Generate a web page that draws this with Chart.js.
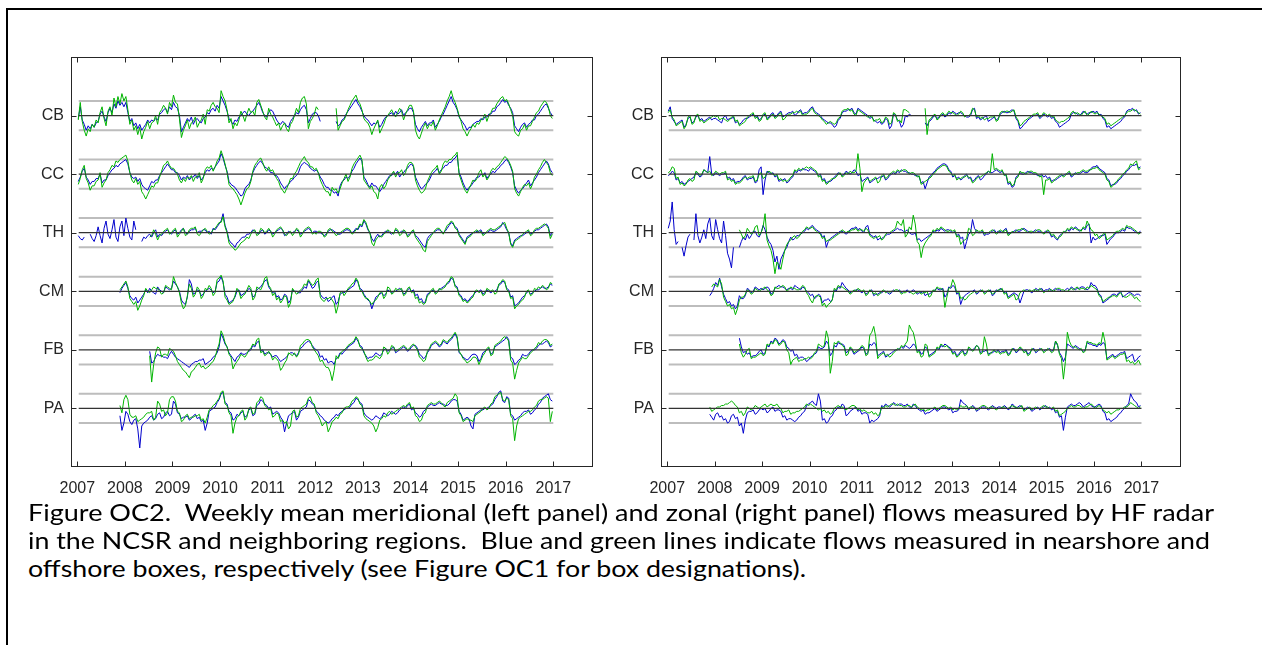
<!DOCTYPE html>
<html><head><meta charset="utf-8">
<script src="https://cdn.jsdelivr.net/npm/chart.js@4.4.0/dist/chart.umd.min.js"></script>
<style>
html,body{margin:0;padding:0;background:#fff;}
body{width:1262px;height:645px;position:relative;overflow:hidden;}
#frameTop{position:absolute;left:6px;top:8px;width:1256px;height:2px;background:#000;}
#frameLeft{position:absolute;left:6px;top:8px;width:2px;height:637px;background:#000;}
canvas{position:absolute;top:0;}
.cap{position:absolute;left:28px;font-family:Lato,'Open Sans',sans-serif;font-size:23px;line-height:23px;white-space:nowrap;color:#000;transform-origin:0 0;}
</style></head><body>
<div id="frameTop"></div><div id="frameLeft"></div>
<canvas id="left" width="620" height="510" style="left:0px;width:620px;height:510px"></canvas>
<canvas id="right" width="620" height="510" style="left:590px;width:620px;height:510px"></canvas>
<div class="cap" id="c1" style="top:501px">Figure OC2.&nbsp; Weekly mean meridional (left panel) and zonal (right panel) flows measured by HF radar</div>
<div class="cap" id="c2" style="top:529px">in the NCSR and neighboring regions.&nbsp; Blue and green lines indicate flows measured in nearshore and</div>
<div class="cap" id="c3" style="top:557px">offshore boxes, respectively (see Figure OC1 for box designations).</div>
<script>
const _ = null;
const rowNames = ['CB','CC','TH','CM','FB','PA'];
const rowBase = [200,160,120,80,40,0];
const band = 10;
const yearTicks = [2007,2008,2009,2010,2011,2012,2013,2014,2015,2016,2017];
const refSpan = [2007.03, 2017.0];
const startYear = 2007, perYear = 24;   // half-monthly samples, 2007-2016

// ---- meridional (left panel); units where grey line = 10 ----
const merCB_near = [
-2,6,-3,-6,-10,-7,-9,-6,-8,-5,-4,1,3,-1,-4,2,5,2,8,5,10,7,9,6,
9,2,-4,-2,-7,-5,-9,-6,-10,-8,-6,-3,-5,-3,-4,-2,-3,1,2,4,5,2,6,4,
9,6,5,0,-11,-8,-5,-2,-4,-1,-6,-3,-2,-4,-5,-2,-1,2,1,4,5,3,7,5,
13,10,7,3,-2,-4,-6,-3,-4,-1,0,2,3,1,0,2,3,5,7,9,6,2,0,-1,
2,4,3,0,-3,-5,-6,-4,-5,-7,-8,-4,-2,0,2,1,4,6,7,4,-5,-2,1,2,
2,0,-4,_,_,_,_,_,_,_,-4,-7,-6,-3,-2,1,3,5,7,9,11,8,6,3,
0,-2,-3,-5,-7,-5,-6,-4,-8,-6,-3,-1,0,1,2,0,3,1,2,4,0,2,3,5,
5,2,-6,-9,-11,-8,-6,-4,-7,-5,-5,-3,-8,-6,-4,-1,1,4,7,10,13,9,7,4,
-1,-3,-5,-7,-10,-8,-8,-6,-5,-4,-4,-2,-3,-1,-1,1,1,3,3,6,7,9,11,9,
10,7,5,2,-7,-9,-11,-8,-6,-5,-8,-6,-5,-3,-3,0,1,3,5,7,8,5,2,0];
const merCB_off = [
-3,9,-4,-10,-14,-9,-11,-6,-8,-3,-5,2,6,-2,-7,3,6,0,12,6,13,8,15,10,
13,4,-6,-3,-10,-7,-13,-8,-16,-11,-8,-4,-9,-5,-4,0,-6,2,4,7,5,1,9,6,
14,9,8,-2,-15,-10,-7,-3,-9,-5,-4,-1,-8,-5,-3,1,-6,4,3,7,9,6,5,2,
17,13,10,4,-5,-2,-9,-5,-7,-3,3,0,-4,1,5,2,3,0,9,11,7,3,-1,-3,
5,1,-1,-4,-7,-5,-10,-7,-5,-9,-11,-6,-4,0,5,2,9,12,13,8,-9,-4,-2,1,
6,4,_,_,_,_,_,_,_,_,5,-10,-7,-4,-3,0,4,7,10,12,14,10,8,4,
-2,-4,-5,-8,-13,-9,-6,-3,-12,-9,-6,-2,0,2,4,1,-1,2,5,3,-3,1,4,7,
7,3,-10,-14,-16,-12,-8,-5,-9,-6,-7,-4,-10,-7,-3,0,3,6,10,13,17,12,9,5,
0,-4,-9,-11,-14,-11,-9,-6,-8,-5,-6,-3,-2,1,-4,0,2,5,5,8,10,12,13,10,
11,8,4,0,-11,-13,-14,-10,-9,-6,-10,-7,-7,-4,-1,2,3,6,8,10,9,6,0,-2];
const merCC_near = [
-5,-2,2,4,-2,-4,-7,-5,-5,-3,-3,0,-6,-4,-4,-1,1,3,4,6,5,7,8,9,
10,7,1,-2,-3,-2,-5,-3,-7,-9,-10,-11,-8,-5,-6,-4,-4,-1,1,3,5,7,5,3,
3,1,1,-1,-4,-2,-3,-1,-4,-2,-2,0,-3,-1,-4,-2,1,3,2,4,3,5,7,9,
14,11,6,2,-5,-7,-8,-9,-11,-13,-15,-14,-10,-8,-7,-4,1,4,6,8,9,7,5,4,
3,1,1,-1,-1,-3,-6,-8,-10,-8,-7,-5,-4,-2,-1,1,5,7,8,7,6,4,3,2,
3,1,-2,-4,-7,-9,-9,-11,-11,-13,-12,-15,-8,-5,-4,-2,-3,-1,2,4,7,9,11,9,
-2,-4,-7,-9,-6,-8,-8,-10,-12,-10,-7,-5,-3,-1,-1,1,0,2,-2,0,1,3,4,6,
7,5,-2,-5,-8,-10,-9,-7,-6,-4,-1,1,2,4,1,3,4,6,6,8,8,10,11,13,
1,-2,-6,-9,-11,-9,-8,-6,-4,-2,-2,0,-1,1,-3,-1,0,2,1,3,4,6,7,9,
10,8,5,1,-8,-11,-13,-11,-10,-8,-6,-4,-8,-6,-4,-2,1,3,5,7,9,7,3,1];
const merCC_off = [
-7,-3,3,6,-3,-6,-11,-8,-8,-5,-4,1,-9,-6,-4,1,3,6,5,9,8,10,11,12,
13,9,1,-4,-6,-3,-7,-5,-12,-14,-17,-14,-11,-8,-9,-6,-6,-2,2,6,7,9,6,4,
4,2,0,-4,-6,-3,-5,-2,-3,-1,-5,-2,-2,1,-6,-3,3,5,4,6,2,5,9,11,
16,12,7,1,-7,-9,-10,-12,-14,-17,-21,-17,-13,-10,-9,-5,2,6,8,10,11,8,4,2,
5,2,3,0,-3,-5,-9,-11,-13,-10,-7,-3,-3,0,2,5,8,10,12,9,8,5,5,3,
4,1,-4,-7,-10,-12,-12,-15,-9,-11,-10,-13,-10,-6,-3,0,-5,-2,4,7,9,11,13,10,
-4,-6,-8,-10,-8,-12,-13,-17,-9,-7,-10,-8,-4,-2,0,2,-2,1,1,3,-1,1,6,8,
8,6,-4,-8,-11,-13,-12,-10,-5,-2,1,3,4,6,0,2,7,9,8,10,10,12,13,15,
0,-4,-8,-11,-13,-10,-7,-4,-5,-3,1,3,-2,0,-4,-2,2,4,3,5,6,8,10,12,
11,9,6,2,-10,-13,-15,-12,-9,-7,-8,-6,-10,-7,-2,0,3,5,8,10,8,6,1,-1];
const merTH_near = [
-2,-4,-5,-3,_,_,-1,-4,-6,-2,4,-2,-7,3,8,-1,-4,2,9,-3,-6,4,8,-2,
10,3,-3,-5,8,2,_,_,-6,-3,-4,-2,-1,-3,0,2,-3,-1,-2,0,1,2,0,-1,
1,2,-1,0,2,3,0,-1,1,2,2,3,0,1,1,2,2,0,1,-1,3,2,4,6,
8,13,5,1,-5,-7,-8,-10,-7,-6,-4,-3,-3,-1,-1,0,2,1,0,-1,1,2,-1,0,
2,1,-1,0,1,2,3,2,-2,-1,1,0,0,1,2,1,-1,0,1,2,3,2,0,1,
1,0,0,-1,-2,-1,1,2,2,1,0,-1,-1,0,1,2,2,1,0,1,3,2,5,4,
8,6,2,0,-4,-6,-3,-1,-3,-2,0,1,1,0,-1,0,2,1,0,1,1,0,-2,-1,
0,1,-2,-3,-5,-7,-9,-10,-4,-2,-1,0,1,2,2,1,0,1,3,5,7,6,4,3,
-1,-3,-5,-7,-3,-2,-1,0,0,1,1,2,-1,0,0,1,2,1,1,2,3,4,7,5,
2,0,-7,-9,-5,-4,-3,-2,-2,-1,0,1,-1,0,1,2,2,3,4,5,6,4,-2,0];
const merTH_off = [
_,_,_,_,_,_,_,_,_,_,_,_,_,_,_,_,_,_,_,_,_,_,_,_,
_,_,_,_,_,_,_,_,_,_,_,_,-3,-2,2,-1,-5,-2,-1,1,2,3,-1,0,
2,3,-3,-1,1,3,-2,-1,2,3,3,4,-1,-2,0,2,3,1,-1,0,2,3,5,7,
7,11,4,0,-7,-9,-10,-12,-11,-9,-7,-6,-5,-3,-4,-1,1,2,-2,-1,3,2,0,1,
3,1,-3,-1,2,3,4,2,-1,-2,0,1,-2,0,3,2,-3,-1,2,3,4,3,-1,0,
-1,1,1,0,-3,-2,2,3,1,0,-2,-1,0,1,2,3,3,2,-1,0,2,3,6,5,
9,7,3,0,-7,-9,-5,-3,-2,-3,-1,0,2,1,0,-1,3,2,-2,-1,2,1,-3,-2,
1,2,-3,-5,-7,-9,-12,-13,-6,-4,-2,0,2,3,3,1,-1,2,5,6,8,7,3,2,
-2,-4,-6,-8,-4,-3,-2,0,1,2,0,1,-2,-1,1,2,3,2,2,3,4,5,6,7,
3,0,-8,-10,-6,-5,-4,-3,-1,0,1,2,-2,-1,2,3,3,4,5,6,5,3,-4,-1];
const merCM_near = [
_,_,_,_,_,_,_,_,_,_,_,_,_,_,_,_,_,_,_,_,_,-1,2,4,
6,2,-3,-5,-6,-4,-8,-6,-4,-2,1,-1,2,0,-1,-2,3,1,0,-1,3,2,1,2,
7,5,3,0,-6,-8,-9,-4,8,5,-2,-1,1,0,-3,-2,0,1,2,1,-1,0,6,7,
10,6,-2,-4,-8,-7,-6,-4,0,1,-3,-2,-1,0,2,1,-4,-3,1,2,3,5,7,8,
3,1,-1,0,-4,-3,-6,-5,-2,-3,-8,-6,1,0,0,-1,-1,1,3,2,7,5,2,3,
6,7,-2,-4,-5,-4,-7,-6,-4,-3,-9,-7,-2,-1,-1,0,1,2,3,4,8,6,2,1,
-2,-4,-6,-7,-12,-8,-4,-3,-2,-1,-3,-2,1,0,-1,0,0,1,2,1,-2,-1,1,2,
0,1,-3,-2,-6,-5,-8,-7,-2,-1,0,1,-1,0,1,2,3,4,5,6,9,8,4,3,
-2,-3,-6,-5,-7,-6,-4,-3,-1,0,0,1,-2,-1,1,0,-1,0,0,1,4,5,7,6,
2,1,-4,-3,-10,-9,-8,-6,-4,-3,-1,0,-2,-1,0,1,1,2,3,2,2,3,5,4];
const merCM_off = [
_,_,_,_,_,_,_,_,_,_,_,_,_,_,_,_,_,_,_,_,_,1,3,5,
7,3,-5,-7,-9,-7,-13,-10,-6,-3,2,0,-1,1,3,2,2,0,-2,-1,4,3,2,1,
10,6,3,-1,-8,-12,-10,-3,5,2,-4,-2,3,1,-5,-3,2,1,4,2,-3,-1,8,9,
11,7,-4,-6,-9,-8,-7,-3,2,0,-5,-3,-2,1,4,2,-6,-4,3,2,1,4,9,10,
4,2,-3,-1,-6,-4,-8,-6,-3,-4,-11,-8,2,0,-2,-1,1,2,5,4,8,6,4,5,
8,9,-4,-6,-7,-5,-5,-4,-6,-8,-15,-10,-1,0,-3,-1,2,3,5,6,9,7,1,0,
-3,-5,-5,-7,-9,-7,-6,-4,-1,0,-5,-3,3,2,-2,-1,2,1,1,2,-3,-2,2,3,
-1,0,-5,-4,-8,-7,-9,-8,-3,-2,1,2,-2,-1,2,1,2,3,6,7,10,9,3,2,
-3,-4,-7,-6,-8,-7,-5,-4,0,1,-1,0,-3,-2,2,1,0,1,-2,-1,5,6,8,7,
1,0,-5,-4,-12,-10,-9,-7,-6,-4,0,1,-3,-2,2,1,3,2,4,3,1,2,6,5];
const merFB_near = [
_,_,_,_,_,_,_,_,_,_,_,_,_,_,_,_,_,_,_,_,_,_,_,_,
_,_,_,_,_,_,_,_,_,_,_,_,-1,-9,-8,-5,-3,-4,-4,-5,-5,-6,-3,-1,
-3,-5,-6,-7,-8,-9,-10,-11,-12,-10,-9,-8,-8,-7,-7,-6,-10,-9,-8,-7,-5,-4,-2,2,
11,8,4,2,-2,-4,-6,-8,-5,-4,-2,-3,-3,-2,-1,0,3,2,5,6,-1,0,-3,-2,
-2,-3,-5,-4,-4,-6,-8,-7,-6,-5,-3,-2,-2,-3,-4,-2,1,2,4,5,6,5,3,1,
0,-1,-5,-4,-7,-6,-9,-8,-8,-10,-6,-5,-2,-3,-1,0,2,3,4,5,8,6,3,2,
-2,-4,-6,-5,-5,-4,-2,-3,-4,-3,0,1,-1,0,1,2,-2,-1,0,1,2,1,-1,0,
2,3,3,1,-3,-4,-6,-5,-2,0,3,4,5,4,2,3,6,5,4,6,7,9,11,8,
-2,-3,-5,-6,-7,-6,-4,-3,-3,-4,-8,-6,-2,-1,0,1,-3,-2,2,3,4,5,6,7,
9,7,-5,-6,-10,-9,-7,-6,-3,-4,-4,-3,-1,0,0,1,3,4,4,5,6,5,2,3];
const merFB_off = [
_,_,_,_,_,_,_,_,_,_,_,_,_,_,_,_,_,_,_,_,_,_,_,_,
_,_,_,_,_,_,_,_,_,_,_,_,-4,-22,-10,-2,2,1,-5,-3,-3,-4,1,0,
-1,-4,-8,-10,-12,-14,-15,-17,-19,-15,-14,-12,-10,-9,-12,-11,-13,-12,-11,-9,-8,-5,0,4,
13,10,5,2,-3,-5,-13,-10,-8,-6,-3,-4,-5,-3,0,1,4,3,7,8,-2,-1,-4,-3,
-1,-3,-7,-5,-6,-8,-14,-12,-9,-7,-2,-3,-4,-2,-5,-3,3,4,6,7,7,6,2,0,
-2,-4,-8,-7,-10,-12,-12,-15,-21,-14,-4,-6,-3,-1,0,1,3,4,5,6,9,7,2,1,
-1,-5,-8,-7,-7,-6,-4,-5,-6,-4,2,1,-3,-1,3,2,-1,0,1,2,3,2,0,1,
3,4,2,0,-5,-6,-8,-7,-1,1,4,5,6,5,3,4,7,6,5,7,8,10,12,9,
-1,-3,-6,-7,-9,-8,-7,-5,-5,-6,-10,-7,-4,-2,1,2,-4,-3,3,4,5,6,8,9,
8,6,-7,-9,-20,-14,-9,-7,-5,-6,-6,-4,-2,-1,1,2,5,4,6,7,7,6,3,4];
const merPA_near = [
_,_,_,_,_,_,_,_,_,_,_,_,_,_,_,_,_,_,_,_,_,-5,-15,-10,
-2,-4,-9,-11,-8,-7,-14,-27,-12,-10,-9,-8,-6,-5,-8,-7,-4,-3,-7,-6,-3,-2,-5,-4,
5,3,-3,-4,-7,-6,-6,-5,-8,-7,-5,-4,-7,-6,-9,-8,-15,-10,-2,-1,0,1,4,6,
10,11,4,3,-2,-3,-8,-7,-4,-5,-3,-2,-6,-5,-1,0,-5,-4,2,3,6,5,3,2,
0,1,-4,-3,-2,-3,-6,-8,-16,-10,-5,-4,-3,-2,-8,-6,-2,-1,0,1,6,5,3,2,
-2,-3,-5,-6,-8,-9,-10,-9,-7,-6,-4,-5,-3,-2,-1,0,0,1,3,4,7,6,4,3,
-3,-5,-6,-7,-8,-7,-5,-6,-7,-6,-3,-4,-5,-4,-2,-3,-4,-3,-1,0,1,0,2,3,
-1,0,-3,-4,-6,-5,-2,-1,1,2,3,2,2,3,4,3,3,2,2,3,5,6,6,5,
-2,-4,-8,-7,-6,-7,-12,-14,-4,-3,-2,-1,-1,0,0,1,2,3,6,8,11,12,5,4,
8,7,-4,-5,-8,-7,-6,-5,-3,-2,-2,-1,-4,-3,-1,0,3,4,7,8,9,10,6,5];
const merPA_off = [
_,_,_,_,_,_,_,_,_,_,_,_,_,_,_,_,_,_,_,_,_,2,-3,6,
9,6,-4,-6,-6,-5,-9,-8,-7,-6,-4,-3,-3,-2,-8,-6,5,3,-2,-1,-5,-3,6,8,
8,5,-2,-3,-9,-8,-5,-4,-7,-6,-6,-5,-5,-4,-8,-7,-10,-6,-1,0,2,3,5,7,
11,12,3,2,-3,-5,-17,-10,-6,-5,-2,-1,-8,-6,0,1,-4,-3,4,5,8,7,2,1,
-1,0,-6,-5,-3,-4,-9,-8,-10,-9,-14,-12,-2,-1,-6,-5,0,1,2,3,7,8,4,3,
-3,-5,-8,-12,-10,-9,-16,-13,-9,-8,-6,-7,-4,-3,0,1,1,2,5,6,8,7,3,2,
-5,-7,-8,-9,-10,-12,-16,-13,-8,-7,-5,-6,-3,-2,-4,-3,-2,-1,0,1,2,1,3,4,
0,1,-5,-6,-9,-8,-4,-3,2,3,4,3,3,4,5,4,2,1,4,5,6,7,10,8,
-3,-5,-9,-8,-7,-8,-8,-9,-5,-4,-3,-2,0,1,-1,0,3,4,8,9,10,11,6,5,
7,6,-5,-7,-22,-12,-7,-6,-5,-4,-3,-2,-2,-1,1,2,5,6,6,7,8,7,-9,-2];

// ---- zonal (right panel) ----
const zonCB_near = [
3,6,-2,-4,-6,-5,-4,-3,-8,-6,-2,-1,-5,-4,-1,0,-3,-2,-4,-3,-2,-1,-3,-2,
-2,-3,-4,-5,-1,0,-3,-2,-2,-1,-5,-4,-6,-5,-3,-2,-2,-1,0,1,-1,0,-3,-2,
0,1,-2,-1,1,2,-1,0,2,3,-1,0,1,2,2,3,0,1,3,4,1,2,2,3,
5,6,3,2,1,0,-2,-3,-4,-5,-5,-6,-8,-7,-3,-2,2,3,3,4,4,5,2,1,
5,4,3,2,1,0,-2,-1,-3,-4,-5,-4,-6,-5,-2,-3,-9,-7,1,0,-3,-4,-8,-6,
0,-1,1,0,_,_,_,_,_,_,-5,-7,-4,-3,-1,0,-2,-1,0,1,-1,0,2,1,
3,2,1,2,2,1,0,-1,-1,0,4,5,-2,-1,-3,-2,-1,0,-4,-3,-2,-1,-3,-2,
1,2,3,2,2,3,4,3,-2,-4,-9,-8,-6,-5,-3,-2,-1,0,0,1,-2,-1,1,0,
-1,0,-2,-1,-4,-5,-8,-7,-6,-5,-4,-3,1,2,2,1,0,1,3,2,1,2,2,3,
2,3,0,1,-2,-3,-8,-7,-9,-8,-7,-6,-5,-4,-2,-1,3,4,4,5,3,4,1,2];
const zonCB_off = [
2,4,-1,-3,-7,-6,-5,-4,-9,-7,-1,0,-6,-5,0,1,-4,-3,-5,-4,-3,-2,-1,0,
-1,0,-3,-2,-2,-3,-4,-3,-1,0,-4,-3,-7,-6,-5,-4,-1,0,1,2,-2,-1,-4,-3,
1,2,-3,-2,0,1,-2,-1,1,2,-3,-2,0,1,1,2,2,3,2,3,0,1,1,2,
4,5,2,1,0,-1,-3,-4,-6,-5,-4,-5,-6,-5,-2,-1,3,4,4,5,3,4,1,0,
4,3,2,1,0,-1,-1,0,-4,-3,-3,-2,-5,-4,-1,-2,-6,-5,2,1,-4,-3,-5,4,
4,3,2,_,_,_,_,_,_,_,5,-13,-3,-2,0,1,-3,-2,1,2,0,1,3,2,
2,1,0,1,3,2,-1,0,0,1,5,4,-1,0,-2,-1,-3,-2,-2,-1,-1,0,-4,-3,
2,3,2,3,3,2,3,4,-1,-3,-7,-6,-4,-3,-2,-1,0,1,1,2,-1,0,2,1,
0,1,-1,0,-3,-4,-5,-4,-4,-3,-2,-1,2,3,1,2,1,0,2,3,0,1,3,2,
1,2,1,0,-1,-2,-6,-5,-7,-6,-5,-4,-3,-2,-1,0,2,3,3,4,4,3,2,1];
const zonCC_near = [
-1,0,2,1,-4,-3,-6,-5,-7,-6,-5,-4,-3,-2,1,0,-2,-1,3,2,1,12,0,-1,
1,0,-1,0,0,1,-3,-2,-4,-3,-6,-5,-5,-4,-2,-1,-4,-3,-3,-2,-6,-5,3,5,
-14,-4,2,1,0,1,-2,-1,-5,-4,-4,-3,-6,-5,-3,-2,2,1,3,2,4,3,3,2,
4,3,2,1,-1,0,-4,-3,-6,-5,-5,-4,-2,-1,1,0,-1,0,2,1,0,1,3,2,
-1,0,-5,-4,-3,-2,-6,-5,-4,-3,-3,-2,-2,-1,-4,-3,-1,0,1,0,2,1,3,2,
2,1,1,0,0,-1,-1,-2,-6,-5,-10,-6,-2,-1,1,2,4,5,6,7,7,6,3,2,
-2,-1,-3,-2,-4,-3,-1,0,-3,-2,-5,-4,-2,-1,-4,-3,-1,0,2,1,1,2,3,2,
1,2,0,-1,-7,-6,-9,-8,-2,-1,1,0,0,1,2,1,1,0,0,-1,-1,0,-2,-1,
-3,-2,-5,-4,-4,-3,-2,-1,-1,0,0,1,-2,-1,1,0,0,1,2,1,1,2,4,5,
5,6,4,3,2,1,-3,-4,-8,-7,-7,-6,-4,-3,-1,0,2,3,5,6,6,7,4,5];
const zonCC_off = [
1,2,5,4,-3,-2,-7,-6,-8,-7,-4,-3,-5,-4,2,1,-1,0,3,2,1,2,-1,0,
2,1,0,1,1,2,-4,-3,-5,-4,-7,-6,-6,-5,-3,-2,-3,-2,-2,-1,-5,-4,0,1,
-3,-2,1,2,1,0,-1,0,-4,-3,-5,-4,-5,-4,-2,-1,3,2,4,3,3,4,5,4,
5,4,3,2,-2,-1,-5,-4,-7,-6,-4,-3,-3,-2,0,1,-2,-1,1,0,2,1,1,2,
14,4,-12,-6,-4,-3,-5,-4,-3,-2,-6,-5,-1,0,-3,-2,0,1,2,1,3,2,2,3,
3,2,0,1,1,0,-2,-1,-7,-6,-5,-4,-3,-2,0,1,3,4,5,6,6,5,2,1,
-1,0,-4,-3,-3,-2,-2,-1,-2,-3,-6,-5,-3,-2,-2,-1,0,1,2,1,14,3,4,3,
2,3,-1,0,-6,-5,-8,-7,-3,-2,2,1,1,0,1,2,2,1,1,0,-2,-1,-14,-4,
-4,-3,-6,-5,-3,-2,-1,0,-2,-1,1,2,-1,0,0,1,1,2,3,2,2,3,3,4,
4,5,3,2,1,0,-4,-5,-9,-8,-6,-5,-3,-2,0,1,3,4,7,6,8,9,3,4];
const zonTH_near = [
3,8,21,2,-8,-6,_,-10,-16,-9,-3,-1,_,-5,13,-2,-7,-3,2,-4,6,10,-2,-5,
9,2,-4,-7,8,-2,-14,-18,-24,-10,_,_,-10,-6,-3,-5,-1,-4,-2,1,1,-2,-3,0,
5,2,-3,-6,-8,-12,-20,-16,-25,-18,-15,-12,-10,-6,-3,-5,-4,-2,-2,-1,0,1,3,2,
4,5,3,2,1,0,-3,-2,-10,-6,-4,-3,-2,-1,0,1,1,0,-1,0,2,3,3,4,
2,3,1,0,4,5,-1,-2,-3,-2,-5,-4,-4,-3,-2,-1,-1,0,1,2,3,2,2,1,
1,2,0,-1,-1,0,-5,-4,-6,-5,-4,-3,-2,-1,1,0,2,1,3,2,1,2,2,1,
0,1,-2,-1,-4,-3,-11,-6,-1,0,9,3,1,0,0,1,-2,-1,-1,0,1,2,0,1,
1,0,2,3,-1,0,0,1,2,1,1,2,3,2,1,0,0,1,2,1,1,0,0,1,
1,0,-3,-2,-4,-5,-2,-1,0,1,2,1,3,2,4,3,1,2,3,2,5,6,-7,-3,
-5,-4,-3,-2,-2,-1,-8,-6,-4,-3,-1,0,0,1,2,1,4,3,3,2,1,0,0,1];
const zonTH_off = [
_,_,_,_,_,_,_,_,_,_,_,_,_,_,_,_,_,_,_,_,_,_,_,_,
_,_,_,_,_,_,_,_,_,_,_,_,2,-1,-4,-2,3,1,-1,0,4,5,-2,0,
4,13,-5,-9,-12,-18,-28,-20,-22,-25,-18,-12,-8,-6,-5,-3,-2,-4,-3,-1,1,2,4,3,
3,4,2,1,0,-1,-4,-3,-6,-5,-5,-4,-3,-2,-1,0,2,1,0,1,1,2,2,3,
1,2,2,1,3,2,-2,-3,-4,-3,-3,-2,-5,-4,-1,0,0,1,2,3,8,6,5,9,
-3,-1,4,2,12,6,-6,-8,-17,-10,-7,-5,-3,-2,2,1,3,2,4,3,2,1,1,2,
1,2,-3,-2,-8,-6,-5,-4,3,2,-2,-1,2,1,1,2,-1,0,0,1,2,1,-1,0,
2,1,1,2,-2,-1,1,0,1,2,2,3,2,1,0,1,1,0,1,2,2,1,-1,0,
2,1,-2,-1,-3,-4,-3,-2,1,0,3,2,4,3,3,2,2,1,4,3,8,5,2,1,
-2,-1,-4,-3,-1,0,-5,-4,-3,-2,0,1,1,2,3,2,5,4,4,3,2,1,-1,0];
const zonCM_near = [
_,_,_,_,_,_,_,_,_,_,_,_,_,_,_,_,_,_,_,_,_,-3,-1,2,
6,4,9,3,-2,-5,-8,-7,-10,-9,-12,-10,-3,-5,-5,-3,2,1,-1,0,3,2,1,2,
1,2,3,2,-2,-1,2,3,4,3,3,2,1,2,2,1,4,3,2,1,3,2,0,-1,
-3,-2,-5,-4,-2,-3,-8,-6,-6,-5,-7,-6,1,0,3,2,6,4,2,1,-1,0,0,1,
1,0,-1,0,-2,-1,0,1,-3,-2,-2,-1,-1,0,0,-1,-2,-1,1,0,0,1,-1,0,
0,1,-1,0,1,0,-2,-1,-1,0,-3,-2,-2,-1,0,1,2,1,1,2,-4,-2,3,2,
4,3,-2,-1,-9,-5,-3,-2,-1,0,0,1,-2,-1,1,0,-1,0,0,1,-3,-2,1,0,
2,1,-1,0,-4,-3,-2,-1,-2,-3,-8,-4,0,1,1,0,-1,0,2,1,1,2,0,1,
1,2,0,1,2,1,1,0,0,1,2,1,3,2,1,2,2,3,3,2,1,2,6,4,
4,2,-2,-3,-8,-7,-6,-5,-3,-2,-2,-3,-1,0,-4,-3,-2,-1,-1,-2,-3,-2,-2,-3];
const zonCM_off = [
_,_,_,_,_,_,_,_,_,_,_,_,_,_,_,_,_,_,_,_,_,_,3,5,
4,3,8,5,-4,-7,-10,-9,-12,-11,-16,-12,-6,-4,-4,-2,1,0,-2,-1,2,1,0,1,
2,3,1,0,-3,-2,3,2,2,3,4,3,0,1,3,2,2,1,1,2,4,3,-1,-3,
-6,-8,-4,-3,-3,-4,-10,-8,-11,-9,-8,-6,2,1,4,3,3,2,1,0,-2,-1,1,0,
2,1,0,1,-3,-2,1,0,-2,-1,-3,-2,0,1,-1,0,-1,0,0,1,1,0,-2,-1,
-1,0,0,-1,-2,-1,-1,0,-2,-1,-1,0,-4,-3,1,0,3,2,2,1,-11,-4,2,3,
8,5,-1,0,-5,-4,-6,-5,-3,-2,-1,0,-1,0,0,1,-2,-1,1,0,-2,-1,0,1,
1,2,-2,-1,-5,-4,-3,-2,-6,-5,-1,0,1,0,0,1,0,1,1,0,2,1,-1,0,
0,1,1,0,1,2,2,1,1,0,0,1,2,1,2,3,1,2,2,1,3,2,4,3,
2,1,-3,-4,-7,-6,-5,-4,-4,-3,-3,-4,-2,-1,-3,-4,-4,-3,-2,-3,-5,-4,-6,-7];
const zonFB_near = [
_,_,_,_,_,_,_,_,_,_,_,_,_,_,_,_,_,_,_,_,_,_,_,_,
_,_,_,_,_,_,_,_,_,_,_,_,8,2,-2,-1,-3,-2,-5,-4,-4,-3,-1,0,
-3,-2,3,2,6,5,8,7,4,5,7,6,2,1,-1,0,-4,-3,-6,-5,-5,-6,-8,-7,
-5,-4,-3,-2,2,1,1,2,6,4,-4,-2,3,2,5,4,4,3,-2,-1,1,0,-3,-2,
-1,0,2,1,-3,-2,4,3,5,4,-4,-3,-2,-1,-5,-4,-3,-2,-1,0,0,1,2,1,
3,2,1,2,4,3,-1,0,-3,-2,2,1,-4,-3,-2,-1,1,0,3,2,4,3,2,1,
-2,-1,-4,-3,-1,0,-3,-2,1,0,0,1,3,2,-2,-1,-1,0,-3,-2,-2,-1,-1,0,
-2,-1,-1,0,-3,-2,0,1,-2,-1,1,0,-1,0,-3,-2,0,1,-2,-1,1,0,-1,0,
0,1,-1,0,6,3,-2,-4,-8,-5,4,3,2,1,3,2,1,0,-1,0,5,4,4,3,
3,2,4,3,5,4,-6,-5,-4,-3,-5,-4,-3,-2,-2,-1,-6,-5,-4,-3,-8,-7,-5,-4];
const zonFB_off = [
_,_,_,_,_,_,_,_,_,_,_,_,_,_,_,_,_,_,_,_,_,_,_,_,
_,_,_,_,_,_,_,_,_,_,_,_,4,-2,-5,-3,0,1,-6,-5,-5,-4,-3,-2,
-4,-3,4,3,5,4,7,6,3,4,6,5,0,-2,-10,-7,-6,-5,-8,-7,-7,-6,-6,-5,
-6,-5,-2,-1,4,3,2,3,13,8,-16,-8,5,4,6,5,3,2,-4,-3,2,1,-2,-1,
0,1,3,2,-4,-3,10,12,16,9,-6,-4,-3,-2,-4,-3,-5,-4,-2,-1,1,0,3,2,
4,6,17,14,12,6,-2,-1,-5,-4,4,3,-5,-4,-3,-2,2,1,4,3,2,3,1,0,
-3,-2,-5,-4,-2,-1,-4,-3,2,1,-1,0,3,2,-3,-2,9,4,-4,-3,-1,0,-2,-1,
-3,-2,-2,-1,-4,-3,1,0,-1,0,2,1,-2,-1,-4,-3,1,0,-1,0,0,1,-2,-1,
1,0,-2,-1,6,4,-3,-6,-20,-8,12,6,3,2,2,1,0,1,-2,-1,6,5,5,4,
4,3,5,4,12,6,-7,-6,-5,-4,-6,-5,-4,-3,-3,-2,-8,-7,-9,-8,-10,-9,-7,-10];
const zonPA_near = [
_,_,_,_,_,_,_,_,_,_,_,_,_,_,_,_,_,_,_,_,_,-4,-6,-8,
-4,-3,-6,-5,-8,-7,-10,-9,-5,-4,-7,-6,-12,-10,-17,-8,-3,-2,-2,-1,-4,-3,-1,0,
-1,0,-3,-2,0,1,-2,-1,-1,-2,-6,-5,-8,-7,-7,-8,-9,-8,-6,-5,-3,-2,2,3,
4,5,3,2,10,5,-8,-7,-10,-9,-6,-5,-2,-1,1,0,3,2,-5,-4,-2,-1,0,1,
-2,-1,-4,-3,-3,-4,-10,-8,-9,-8,-7,-5,2,1,3,2,1,2,4,3,2,3,3,2,
2,3,1,0,3,2,0,-1,-2,-1,-4,-3,-3,-2,-1,0,-2,-1,0,1,1,0,-1,0,
-3,-2,-2,-1,6,4,3,2,-1,0,2,1,-2,-1,0,1,1,0,-1,0,2,1,0,1,
1,0,2,1,-1,0,3,2,0,1,2,1,-1,0,1,0,-2,-1,0,1,-1,0,1,2,
0,1,-1,0,-3,-2,-6,-5,-15,-6,1,2,3,2,2,3,4,3,1,2,3,4,2,1,
1,2,3,2,-2,-3,-8,-7,-9,-8,-7,-6,-4,-3,-1,0,2,3,10,7,5,4,1,2];
const zonPA_off = [
_,_,_,_,_,_,_,_,_,_,_,_,_,_,_,_,_,_,_,_,_,1,-2,-1,
0,1,1,2,2,3,3,4,5,4,2,1,-3,-2,-5,-3,1,0,-1,0,2,1,0,1,
2,3,1,2,3,2,2,3,1,0,-3,-2,-2,-1,-4,-3,-3,-2,-2,-1,0,1,3,2,
3,2,1,0,-1,0,-2,-1,-3,-2,-4,-3,0,1,2,1,1,0,-1,0,1,2,2,1,
-1,0,-2,-1,-2,-3,-3,-2,-4,-3,-5,-4,1,0,2,1,2,3,3,2,3,2,2,1,
1,2,2,1,2,3,1,0,-1,0,-2,-1,-1,0,0,1,-1,0,1,2,2,1,0,1,
-1,0,-1,0,2,1,1,2,0,1,1,0,-1,0,1,2,2,1,0,1,1,0,-1,0,
0,1,1,0,0,1,2,1,1,0,1,2,-2,-1,0,1,-1,0,1,0,0,1,2,1,
1,0,0,1,-2,-1,-5,-4,-3,-2,0,1,2,1,1,2,2,1,0,1,1,2,3,2,
0,1,2,1,-1,-2,-3,-2,-4,-3,-2,-1,-1,0,0,1,1,2,4,3,2,1,0,1];

const leftRows  = [[merCB_near,merCB_off],[merCC_near,merCC_off],[merTH_near,merTH_off],[merCM_near,merCM_off],[merFB_near,merFB_off],[merPA_near,merPA_off]];
const rightRows = [[zonCB_near,zonCB_off],[zonCC_near,zonCC_off],[zonTH_near,zonTH_off],[zonCM_near,zonCM_off],[zonFB_near,zonFB_off],[zonPA_near,zonPA_off]];

const BLUE = '#0000cc', GREEN = '#00b400';
const FONT = {family:"'Liberation Sans', Arial, sans-serif", size:16};

function toPoints(vals, base){
  return vals.map((v,i)=>({x: startYear + (i+0.5)/perYear, y: v===null ? null : base + v}));
}

const frameTicks = {
  id:'frameTicks',
  afterDraw(chart){
    const {ctx, chartArea:a, scales:{x,y}} = chart;
    ctx.save();
    ctx.strokeStyle = '#262626'; ctx.lineWidth = 1;
    const L = Math.round(a.left)+0.5, R = Math.round(a.right)-0.5, T = Math.round(a.top)+0.5, B = Math.round(a.bottom)-0.5;
    ctx.strokeRect(L, T, R-L, B-T);
    ctx.beginPath();
    yearTicks.forEach(v=>{
      const px = Math.round(x.getPixelForValue(v))+0.5;
      ctx.moveTo(px,B); ctx.lineTo(px,B-5);
      ctx.moveTo(px,T); ctx.lineTo(px,T+5);
    });
    rowBase.forEach(v=>{
      const py = Math.round(y.getPixelForValue(v))+0.5;
      ctx.moveTo(L,py); ctx.lineTo(L+5,py);
      ctx.moveTo(R,py); ctx.lineTo(R-5,py);
    });
    ctx.stroke();
    ctx.restore();
  }
};

function makePanel(id, rows, padRight){
  const datasets = [];
  rows.forEach((pair, r)=>{
    const base = rowBase[r];
    [base+band, base-band].forEach(level=>{
      datasets.push({data: refSpan.map(x=>({x, y:level})), borderColor:'#bdbdbd', borderWidth:2, pointRadius:0, order:3});
    });
    datasets.push({data: refSpan.map(x=>({x, y:base})), borderColor:'#333333', borderWidth:1.3, pointRadius:0, order:0});
    datasets.push({data: toPoints(pair[0], base), borderColor:BLUE, borderWidth:1, pointRadius:0, spanGaps:false, order:2});
    datasets.push({data: toPoints(pair[1], base), borderColor:GREEN, borderWidth:1, pointRadius:0, spanGaps:false, order:1});
  });
  return new Chart(document.getElementById(id), {
    type:'line',
    data:{datasets},
    options:{
      responsive:false, animation:false, devicePixelRatio:1,
      layout:{padding:{left:0, top:57, right:padRight, bottom:3}},
      plugins:{legend:{display:false}, tooltip:{enabled:false}},
      elements:{line:{tension:0}},
      scales:{
        x:{type:'linear', min:2006.868, max:2017.84,
           afterBuildTicks:s=>{s.ticks = yearTicks.map(v=>({value:v}));},
           afterFit:s=>{s.height = 40;},
           ticks:{callback:v=>String(v), font:FONT, color:'#262626', padding:12, maxRotation:0, autoSkip:false},
           grid:{display:false, drawTicks:false}, border:{display:false}},
        y:{type:'linear', min:-40, max:240,
           afterBuildTicks:s=>{s.ticks = rowBase.slice().reverse().map(v=>({value:v}));},
           afterFit:s=>{s.width = 71;},
           ticks:{callback:v=>{const k=rowBase.indexOf(v); return k<0?'':rowNames[k];}, font:FONT, color:'#262626', padding:7, autoSkip:false},
           grid:{display:false, drawTicks:false}, border:{display:false}}
      }
    },
    plugins:[frameTicks]
  });
}

makePanel('left', leftRows, 26.7);
makePanel('right', rightRows, 28.7);

function fitCaptions(){
  const targets = {c1:1186, c2:1182, c3:778};
  Object.keys(targets).forEach(id=>{
    const el = document.getElementById(id);
    el.style.transform = 'none';
    const w = el.getBoundingClientRect().width;
    if (w > 0) el.style.transform = 'scaleX(' + (targets[id]/w) + ')';
  });
}
fitCaptions();
if (document.fonts && document.fonts.ready) document.fonts.ready.then(fitCaptions);
</script>
</body></html>
